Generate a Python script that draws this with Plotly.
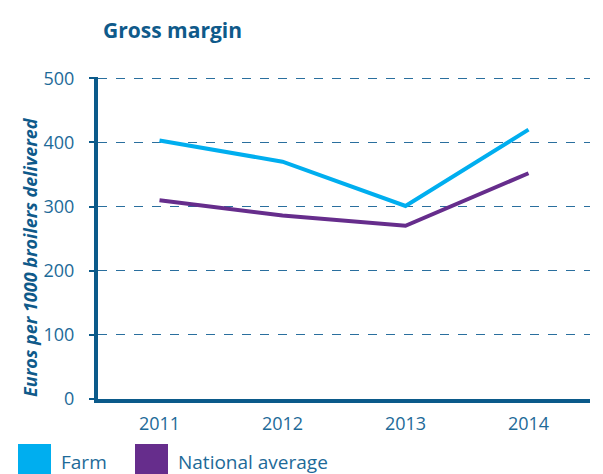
import plotly.graph_objects as go

years = [2011, 2012, 2013, 2014]
farm = [403, 370, 301, 420]
national = [310, 286, 270, 352]
y_ticks = [0, 100, 200, 300, 400, 500]

DARK = "#0b5a8a"
TXT = "#1d6a98"
FARM_C = "#00aeef"
NAT_C = "#662d8c"

fig = go.Figure()
fig.add_trace(go.Scatter(x=years, y=farm, mode="lines", name="Farm",
                         line=dict(color=FARM_C, width=4), showlegend=False))
fig.add_trace(go.Scatter(x=years, y=national, mode="lines", name="National average",
                         line=dict(color=NAT_C, width=4), showlegend=False))

OFF = 8  # page body margin
W, H = 603 - OFF, 474 - OFF
L, R, T, B = 98 - OFF, 13, 77 - OFF, 75
pw, ph = W - L - R, H - T - B

def px(x):
    return (x - OFF - L) / pw

def py(y):
    return (H - B - (y - OFF)) / ph

fig.update_layout(
    width=W, height=H,
    margin=dict(l=L, r=R, t=T, b=B),
    paper_bgcolor="white", plot_bgcolor="white",
    font=dict(family="Open Sans", color=TXT),
    xaxis=dict(range=[2010.5, 2014.5], tickvals=years, ticktext=[str(y) for y in years],
               showgrid=False, zeroline=False, showline=True, linewidth=4, linecolor=DARK,
               ticks="", tickfont=dict(size=18, color=TXT), ticklabelstandoff=5),
    yaxis=dict(range=[0, 502], tickvals=y_ticks, showgrid=True, gridcolor="#2a6f9e",
               griddash="dash", gridwidth=1, zeroline=False, showline=True, linewidth=4,
               linecolor=DARK, ticks="outside", ticklen=5, tickwidth=2, tickcolor=DARK,
               tickfont=dict(size=18, color=TXT), ticklabelstandoff=11),
    showlegend=False,
)

fig.add_annotation(text="<b>Gross margin</b>", xref="paper", yref="paper",
                   x=px(101), y=py(30), xanchor="left", yanchor="middle",
                   showarrow=False, font=dict(size=21, color="#0f5a8a", family="Open Sans"))

fig.add_annotation(text="<b><i>Euros per 1000 broilers delivered</i></b>", xref="paper", yref="paper",
                   x=px(30), y=py(257), xanchor="center", yanchor="middle", textangle=-90,
                   showarrow=False, font=dict(size=18, color="#0f5a8a", family="Open Sans"))

# legend
fig.add_shape(type="rect", xref="paper", yref="paper", x0=px(18), x1=px(51), y0=py(444), y1=py(480),
              fillcolor=FARM_C, line=dict(width=0))
fig.add_shape(type="rect", xref="paper", yref="paper", x0=px(135), x1=px(168), y0=py(444), y1=py(480),
              fillcolor=NAT_C, line=dict(width=0))
fig.add_annotation(text="Farm", xref="paper", yref="paper", x=px(59), y=py(462),
                   xanchor="left", yanchor="middle", showarrow=False,
                   font=dict(size=19, color=TXT, family="Open Sans"))
fig.add_annotation(text="National average", xref="paper", yref="paper", x=px(176), y=py(462),
                   xanchor="left", yanchor="middle", showarrow=False,
                   font=dict(size=19, color=TXT, family="Open Sans"))

fig.write_html("out.html")
